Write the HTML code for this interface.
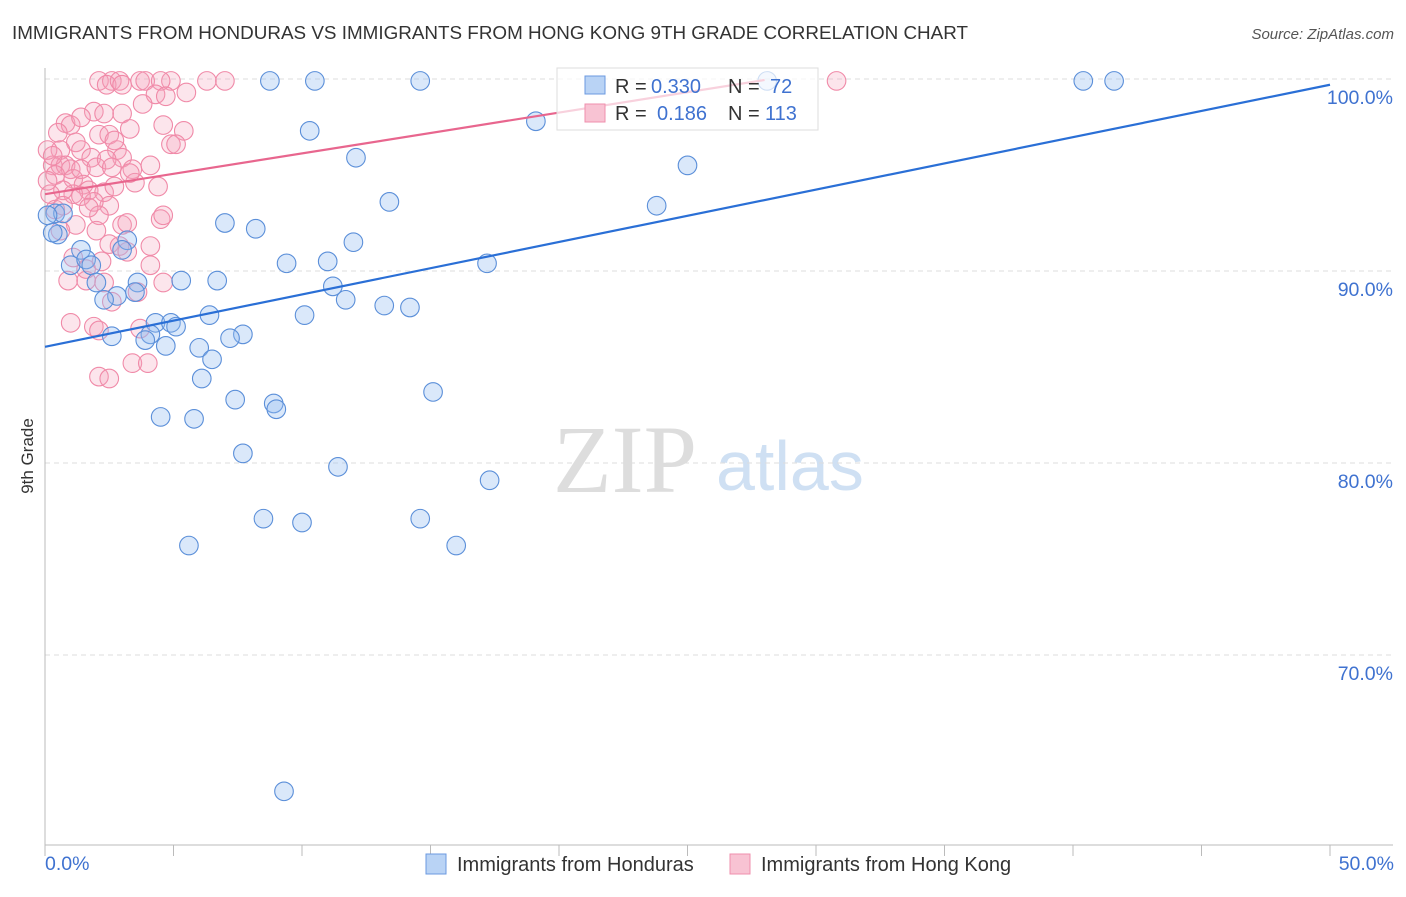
<!DOCTYPE html>
<html><head><meta charset="utf-8"><style>
body{margin:0;background:#fff;font-family:"Liberation Sans",sans-serif}
</style></head><body>
<svg id="chart" width="1406" height="892" xmlns="http://www.w3.org/2000/svg" font-family="Liberation Sans, sans-serif">
<text x="12" y="39" font-size="18.5" fill="#333" textLength="956" lengthAdjust="spacingAndGlyphs">IMMIGRANTS FROM HONDURAS VS IMMIGRANTS FROM HONG KONG 9TH GRADE CORRELATION CHART</text>
<text x="1394" y="39" font-size="15" fill="#555" text-anchor="end" font-style="italic">Source: ZipAtlas.com</text>
<g>
<text x="553" y="492" font-size="96" font-family="Liberation Serif, serif" fill="#ddd">ZIP</text>
<text x="716" y="490" font-size="70" fill="#cfe0f3">atlas</text>
</g>
<g id="grid"></g>
<g id="axes"></g>
<g id="pts"></g>
<g id="lines"></g>
<text transform="translate(33,456) rotate(-90)" font-size="17" fill="#333" text-anchor="middle">9th Grade</text>
<g>
<rect x="557" y="68" width="261" height="62" fill="#fff" fill-opacity="0.7" stroke="#ddd"/>
<rect x="585" y="76" width="20" height="18" fill="#b9d3f5" stroke="#6b9ae0"/>
<text x="615" y="93" font-size="20" fill="#333">R =</text>
<text x="651" y="93" font-size="20" fill="#3f72d0">0.330</text>
<text x="728" y="93" font-size="20" fill="#333">N =</text>
<text x="770" y="93" font-size="20" fill="#3f72d0">72</text>
<rect x="585" y="104" width="20" height="18" fill="#f8c3d3" stroke="#ef8fac"/>
<text x="615" y="120" font-size="20" fill="#333">R =</text>
<text x="657" y="120" font-size="20" fill="#3f72d0">0.186</text>
<text x="728" y="120" font-size="20" fill="#333">N =</text>
<text x="765" y="120" font-size="20" fill="#3f72d0">113</text>
</g>
<g>
<rect x="426" y="854" width="20" height="20" fill="#b9d3f5" stroke="#6b9ae0"/>
<text x="457" y="871" font-size="20" fill="#333">Immigrants from Honduras</text>
<rect x="730" y="854" width="20" height="20" fill="#f8c3d3" stroke="#ef8fac"/>
<text x="761" y="871" font-size="20" fill="#333">Immigrants from Hong Kong</text>
</g>
</svg>
<script>
const yTicks=[100,90,80,70];
const yTickLabels=["100.0%","90.0%","80.0%","70.0%"];
const xTickLabels=["0.0%","50.0%"];
const blueX=[8.75,10.5,14.6,28.1,40.4,41.6,10.3,19.1,12.1,25.0,13.4,23.8,7.0,8.2,0.4,0.7,0.5,3.2,12.0,3.0,1.4,9.4,11.0,17.2,1.0,1.6,1.8,5.3,6.7,2.0,3.6,11.2,2.8,2.3,3.5,11.7,13.2,14.2,6.4,10.1,4.3,4.9,5.1,4.1,2.6,7.7,7.2,3.9,4.7,6.0,6.5,6.1,15.1,7.4,8.9,9.0,4.5,5.8,7.7,11.4,17.3,8.5,10.0,14.6,5.6,16.0,9.3,0.3,0.1];
const blueY=[99.9,99.9,99.9,99.9,99.9,99.9,97.3,97.8,95.9,95.5,93.6,93.4,92.5,92.2,93.0,93.0,91.9,91.6,91.5,91.1,91.1,90.4,90.5,90.4,90.3,90.6,90.3,89.5,89.5,89.4,89.4,89.2,88.7,88.5,88.9,88.5,88.2,88.1,87.7,87.7,87.3,87.3,87.1,86.7,86.6,86.7,86.5,86.4,86.1,86.0,85.4,84.4,83.7,83.3,83.1,82.8,82.4,82.3,80.5,79.8,79.1,77.1,76.9,77.1,75.7,75.7,62.9,92.0,92.9];
const pinkX=[2.1,2.6,2.4,2.9,3.0,3.7,3.9,4.9,6.3,7.0,4.5,30.8,4.3,4.7,5.5,3.8,4.6,5.4,4.9,5.1,3.0,1.9,3.3,0.8,1.0,0.5,2.1,2.5,1.2,2.8,3.0,0.6,1.4,1.8,0.3,0.6,0.8,1.0,0.4,1.1,1.4,2.0,2.4,2.6,1.5,1.7,2.3,1.1,0.7,0.2,2.7,3.4,3.5,4.4,3.3,2.5,1.9,1.4,2.1,3.0,3.2,4.5,4.6,2.0,1.2,0.6,2.5,2.9,3.2,4.1,0.9,1.6,2.3,3.6,4.6,2.6,1.0,1.9,2.1,3.7,3.4,4.0,2.1,2.5,2.2,1.1,1.6,4.1,2.7,2.3,1.4,1.7,0.4,0.7,0.1,0.1,0.3,4.1];
const pinkY=[99.9,99.9,99.7,99.9,99.7,99.9,99.9,99.9,99.9,99.9,99.9,99.9,99.2,99.1,99.3,98.7,97.6,97.3,96.6,96.6,98.2,98.3,97.4,97.7,97.6,97.2,97.1,97.1,96.7,96.3,95.9,96.3,96.3,95.9,95.5,95.5,95.5,95.3,95.0,94.8,95.3,95.4,95.8,95.4,94.5,94.2,94.1,94.0,94.2,94.0,94.4,95.3,94.6,94.4,95.1,93.4,93.6,93.9,92.9,92.4,92.5,92.7,92.9,92.1,92.4,92.1,91.4,91.3,91.0,90.3,89.5,89.5,89.4,88.9,89.4,88.4,87.3,87.1,86.9,87.0,85.2,85.2,84.5,84.4,90.5,90.7,90.1,95.5,96.8,98.2,98.0,93.3,93.2,93.4,96.3,94.7,96.0,91.3];
const blueTrendX=[0,50];
const blueTrendY=[86.05,99.7];
const pinkTrendX=[0,28.0];
const pinkTrendY=[94.0,99.95];
const NS="http://www.w3.org/2000/svg";
const sx=v=>45+v*(1285/50);
const sy=v=>79+(100-v)*19.2;
function mk(tag,attrs,parent){const e=document.createElementNS(NS,tag);for(const k in attrs)e.setAttribute(k,attrs[k]);document.getElementById(parent).appendChild(e);return e;}
yTicks.forEach((t,i)=>{
 const g=mk('line',{x1:45,x2:1393,y1:sy(t),y2:sy(t),stroke:'#ddd','stroke-dasharray':'5,4'},'grid');
 
 
 const l=mk('text',{x:1393,y:sy(t)+25,'font-size':19.5,fill:'#3f72d0','text-anchor':'end'},'axes');
 l.textContent=yTickLabels[i];
 
 
});
const ax=mk('line',{x1:45,x2:45,y1:68,y2:845,stroke:'#bbb'},'axes');


const bx=mk('line',{x1:45,x2:1393,y1:845,y2:845,stroke:'#bbb'},'axes');


for(let i=0;i<=10;i++){
 const t=mk('line',{x1:sx(i*5),x2:sx(i*5),y1:845,y2:856,stroke:'#bbb'},'axes');
 
 
}
[[0,'start',45],[50,'end',1394]].forEach((d,i)=>{
 const l=mk('text',{x:d[2],y:870,'font-size':19.5,fill:'#3f72d0','text-anchor':d[1]},'axes');
 l.textContent=xTickLabels[i];
 
 
});
pinkX.forEach((x,i)=>{
 const c=mk('circle',{cx:sx(x),cy:sy(pinkY[i]),r:9.3,fill:'rgba(244,160,185,0.28)',stroke:'#f08aa8','stroke-width':1.1},'pts');
 
 
});
blueX.forEach((x,i)=>{
 const c=mk('circle',{cx:sx(x),cy:sy(blueY[i]),r:9.3,fill:'rgba(150,190,240,0.35)',stroke:'#5b8fd9','stroke-width':1.1},'pts');
 
 
});
const bl=mk('line',{x1:sx(blueTrendX[0]),y1:sy(blueTrendY[0]),x2:sx(blueTrendX[1]),y2:sy(blueTrendY[1]),stroke:'#2a6fd6','stroke-width':2.2},'lines');


const pl=mk('line',{x1:sx(pinkTrendX[0]),y1:sy(pinkTrendY[0]),x2:sx(pinkTrendX[1]),y2:sy(pinkTrendY[1]),stroke:'#e8668e','stroke-width':2.2},'lines');


</script>
</body></html>
